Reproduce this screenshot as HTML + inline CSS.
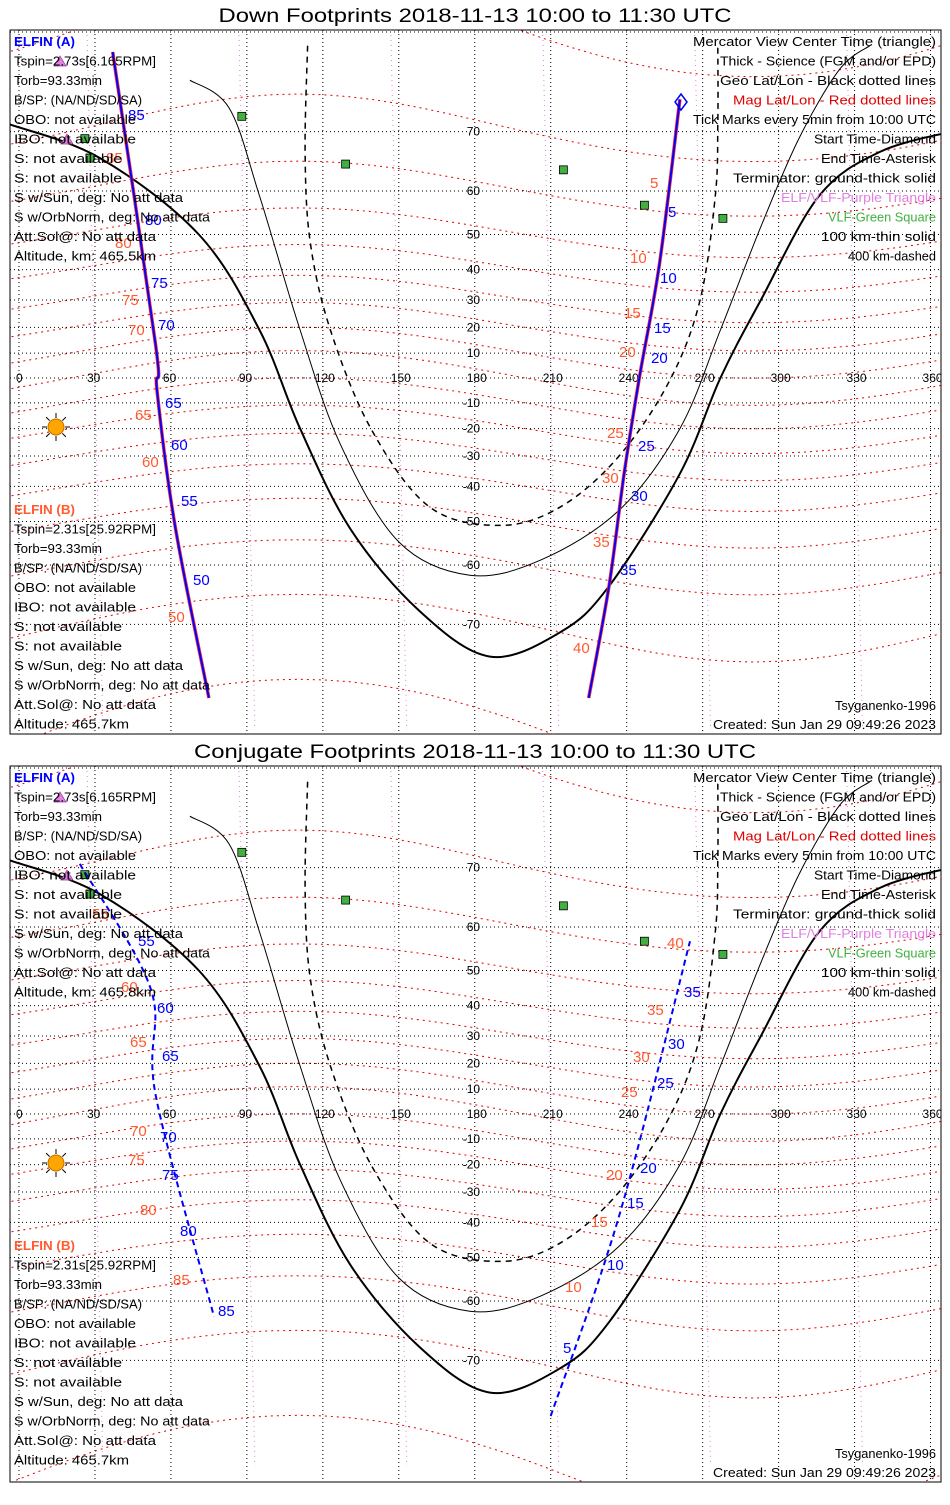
<!DOCTYPE html>
<html><head><meta charset="utf-8"><style>
body{margin:0;background:#fff;}
svg text{font-family:"Liberation Sans",sans-serif;}
</style></head><body>
<svg id="c" width="950" height="1500" xmlns="http://www.w3.org/2000/svg"></svg>
<script>
// terminator curves (lon, lat)
const termThickLon=[-4,32,71,95,111,131,158,186,214,233,261,277,293,316,340,368];
const termThickLat=[71,66,50,19,-20,-52,-68,-74,-71,-64,-36,0,30,59,67,70];
const termThinLon=[67.5,83,95,111,127,150,178,206,237,261,277,293,308,324,336];
const termThinLat=[76,73,59,19,-26,-55,-62,-59,-47,-20,19,52,69,77,79];
const termDashLon=[114,113,115,123,139,162,190,214,237,257,269,275,276,276];
const termDashLat=[79,67,48,19,-20,-46,-51,-46,-30,-1,30,59,71,79];
// panel 1 tracks
const downLeftLon=[37,54,54.5,61.6,75];
const downLeftLat=[78.5,13,-5,-51,-78];
const downRightLon=[225,233,239,245,253,261];
const downRightLat=[-78,-64,-36,0,42,74];
// panel 2 tracks
const conjLeftLon=[24,52,54,77];
const conjLeftLat=[70.5,45,7.5,-63];
const conjRightLon=[210,237,265];
const conjRightLat=[-76.4,-38,57];
// stations
const stationLon=[88,26,28,129,215,247,278];
const stationLat=[72,69,66,65,64,57,54];
const lonTicks=[0,30,60,90,120,150,180,210,240,270,300,330,360];
const latTicks=[70,60,50,40,30,20,10,-10,-20,-30,-40,-50,-60,-70];
const magLats=[-80,-70,-60,-50,-40,-30,-20,-10,0,10,20,30,40,50,60,70,80];

const NS="http://www.w3.org/2000/svg";
const svg=document.getElementById('c');
function X(lon){return 19+lon*2.532;}
function Y(lat,off){return off+378-142*Math.log(Math.tan(Math.PI/4+lat*Math.PI/360));}
function mk(tag,attrs,parent){const e=document.createElementNS(NS,tag);for(const k in attrs)e.setAttribute(k,attrs[k]);(parent||svg).appendChild(e);return e;}
function txt(s,x,y,attrs,parent){const e=mk('text',Object.assign({x:x,y:y,'font-size':12},attrs),parent);e.textContent=s;return e;}
function pts(lons,lats,off){return lons.map((l,i)=>X(l).toFixed(1)+','+Y(lats[i],off).toFixed(1)).join(' ');}
function smooth(lons,lats,off){
  const p=lons.map((l,i)=>[X(l),Y(lats[i],off)]);
  let d='M'+p[0][0].toFixed(1)+' '+p[0][1].toFixed(1);
  for(let i=0;i<p.length-1;i++){
    const p0=p[i-1]||p[i],p1=p[i],p2=p[i+1],p3=p[i+2]||p[i+1];
    const c1=[p1[0]+(p2[0]-p0[0])/6,p1[1]+(p2[1]-p0[1])/6];
    const c2=[p2[0]-(p3[0]-p1[0])/6,p2[1]-(p3[1]-p1[1])/6];
    d+=` C${c1[0].toFixed(1)} ${c1[1].toFixed(1)} ${c2[0].toFixed(1)} ${c2[1].toFixed(1)} ${p2[0].toFixed(1)} ${p2[1].toFixed(1)}`;
  }
  return d;
}
function infoTxt(s,x,y,attrs,parent){return txt(s,x,y,Object.assign({'font-size':13,textLength:(s.length*6.75).toFixed(0),lengthAdjust:'spacingAndGlyphs'},attrs),parent);}

const leftA=["Tspin=2.73s[6.165RPM]","Torb=93.33min","B/SP: (NA/ND/SD/SA)","OBO: not available","IBO: not available","S: not available","S: not available","S w/Sun, deg: No att data","S w/OrbNorm, deg: No att data","Att.Sol@: No att data"];
const leftB=["Tspin=2.31s[25.92RPM]","Torb=93.33min","B/SP: (NA/ND/SD/SA)","OBO: not available","IBO: not available","S: not available","S: not available","S w/Sun, deg: No att data","S w/OrbNorm, deg: No att data","Att.Sol@: No att data","Altitude: 465.7km"];
const rightT=[["Mercator View Center Time (triangle)","#000"],["Thick - Science (FGM and/or EPD)","#000"],["Geo Lat/Lon - Black dotted lines","#000"],["Mag Lat/Lon - Red dotted lines","#e00000"],["Tick Marks every 5min from 10:00 UTC","#000"],["Start Time-Diamond","#000"],["End Time-Asterisk","#000"],["Terminator: ground-thick solid","#000"],["ELF/VLF-Purple Triangle","#e080e0"],["VLF-Green Square","#40b040"],["100 km-thin solid","#000"],["400 km-dashed","#000"]];

const downLabels={blueL:[["85",128,120],["80",145,225],["75",151,288],["70",158,330],["65",165,408],["60",171,450],["55",181,506],["50",193,585]],
redL:[["85",106,163],["80",115,248],["75",122,305],["70",128,335],["65",135,420],["60",142,467],["50",168,622]],
blueR:[["5",668,217],["10",660,283],["15",654,333],["20",651,363],["25",638,451],["30",631,501],["35",620,575]],
redR:[["5",650,188],["10",630,263],["15",624,318],["20",619,357],["25",607,438],["30",602,483],["35",593,547],["40",573,653]]};
const conjLabels={blueL:[["55",138,946],["60",157,1013],["65",162,1061],["70",160,1142],["75",162,1180],["80",180,1236],["85",218,1316]],
redL:[["55",92,919],["60",121,992],["65",130,1047],["70",130,1136],["75",128,1165],["80",140,1215],["85",173,1285]],
blueR:[["35",684,997],["30",668,1049],["25",657,1088],["20",640,1173],["15",627,1208],["10",607,1270],["5",563,1353]],
redR:[["40",667,948],["35",647,1015],["30",633,1062],["25",621,1097],["20",606,1180],["15",591,1227],["10",565,1292]]};

function panel(idx,top,title,alt,tracks,labels,dashed){
  const off=top-30;
  const H=idx==='conj'?716:704;
  const g=mk('g',{});
  const t=txt(title,475,top-8,{'text-anchor':'middle','font-size':19,textLength:(idx==='conj'?562:513),lengthAdjust:'spacingAndGlyphs'},g);
  
  mk('rect',{x:10,y:top,width:931,height:H,fill:'#fff',stroke:'#000','stroke-width':1,},g);
  const cid='clip'+idx;
  const cp=mk('clipPath',{id:cid},g);mk('rect',{x:10,y:top,width:931,height:H},cp);
  const m=mk('g',{'clip-path':'url(#'+cid+')',},g);
  for(let l=30;l<=330;l+=60){const e=mk('line',{x1:X(l)-8,y1:top,x2:X(l)+8,y2:top+700,stroke:'#e080e0','stroke-dasharray':'1,4'},m);}
  magLats.forEach(ml=>{const ls=[],la=[];for(let lon=-10;lon<=370;lon+=10){ls.push(lon);la.push(Math.max(-85,Math.min(85,ml+11*Math.cos((lon-110)*Math.PI/180)*(1-Math.abs(ml)/120))));}
    const e=mk('polyline',{points:pts(ls,la,off),fill:'none',stroke:'#e00000','stroke-dasharray':'2,4','stroke-width':1},m);
    });
  latTicks.concat([80,0]).forEach(la=>{const e=mk('line',{x1:10,x2:941,y1:Y(la,off),y2:Y(la,off),stroke:'#000','stroke-dasharray':'1,3'},m);});
  lonTicks.forEach(lo=>{const e=mk('line',{x1:X(lo),x2:X(lo),y1:top,y2:top+720,stroke:'#000','stroke-dasharray':'1,3'},m);});
  lonTicks.forEach(lo=>{const e=txt(String(lo),X(lo)-(lo===0?3:8),Y(0,off)+4,{'font-size':12,fill:'#000'},m);});
  latTicks.forEach(la=>{const e=txt(String(la),X(180)-(la<0?12:8),Y(la,off)+4,{'font-size':12},m);});
  let e=mk('path',{d:smooth(termThickLon,termThickLat,off),fill:'none',stroke:'#000','stroke-width':2},m);
  e=mk('path',{d:smooth(termThinLon,termThinLat,off),fill:'none',stroke:'#000','stroke-width':1},m);
  e=mk('path',{d:smooth(termDashLon,termDashLat,off),fill:'none',stroke:'#000','stroke-width':1.5,'stroke-dasharray':'6,5'},m);
  stationLon.forEach((lo,i)=>{const s=mk('rect',{x:X(lo)-4,y:Y(stationLat[i],off)-4,width:8,height:8,fill:'#40b040',stroke:'#000','stroke-width':0.8},m);});
  tracks.forEach(tr=>{
    if(!dashed){const r=mk('path',{d:smooth(tr[0],tr[1],off),fill:'none',stroke:'#ff3030','stroke-width':3.5},m);}
    const b=mk('path',{d:smooth(tr[0],tr[1],off),fill:'none',stroke:'#0000ff','stroke-width':2,'stroke-dasharray':dashed?'6,4':'none'},m);
    });
  labels.redL.concat(labels.redR).forEach(l=>{const e=txt(l[0],l[1],l[2],{'font-size':15,fill:'#ff5a30'},m);});
  labels.blueL.concat(labels.blueR).forEach(l=>{const e=txt(l[0],l[1],l[2],{'font-size':15,fill:'#0000ff'},m);});
  if(!dashed){const d=mk('path',{d:`M681 ${top+64} l6 8 l-6 8 l-6 -8 z`,fill:'none',stroke:'#0000ff','stroke-width':1.5},m);}
  [[60,top+32],[67,top+110]].forEach(p=>{const tr=mk('path',{d:`M${p[0]} ${p[1]-6} l6 10 l-12 0 z`,fill:'#e080e0',stroke:'#903090','stroke-width':0.7},m);});
  const sy=top+397;
  for(let a=0;a<360;a+=45){const r=a*Math.PI/180;const ray=mk('line',{x1:56+9*Math.cos(r),y1:sy+9*Math.sin(r),x2:56+14*Math.cos(r),y2:sy+14*Math.sin(r),stroke:'#000','stroke-width':1},m);}
  const sun=mk('circle',{cx:56,cy:sy,r:8,fill:'#ffa500',stroke:'#c07000'},m);
  let y=top+16;
  e=infoTxt('ELFIN (A)',14,y,{'font-weight':'bold',fill:'#0000ff'},g);
  leftA.concat(['Altitude, km: '+alt]).forEach((s,i)=>{const t=infoTxt(s,14,y+19.5*(i+1),{},g);});
  y=top+484;
  e=infoTxt('ELFIN (B)',14,y,{'font-weight':'bold',fill:'#ff5a30'},g);
  leftB.forEach((s,i)=>{const t=infoTxt(s,14,y+19.5*(i+1),{},g);});
  rightT.forEach((r,i)=>{const t=infoTxt(r[0],936,top+16+19.5*i,{'text-anchor':'end',fill:r[1]},g);});
  e=infoTxt('Tsyganenko-1996',936,top+H-24,{'text-anchor':'end'},g);
  e=infoTxt('Created: Sun Jan 29 09:49:26 2023',936,top+H-5,{'text-anchor':'end'},g);
}
panel('down',30,'Down Footprints 2018-11-13 10:00 to 11:30 UTC','465.5km',[[downLeftLon,downLeftLat],[downRightLon,downRightLat]],downLabels,false);
panel('conj',766,'Conjugate Footprints 2018-11-13 10:00 to 11:30 UTC','465.8km',[[conjLeftLon,conjLeftLat],[conjRightLon,conjRightLat]],conjLabels,true);
</script>
</body></html>
